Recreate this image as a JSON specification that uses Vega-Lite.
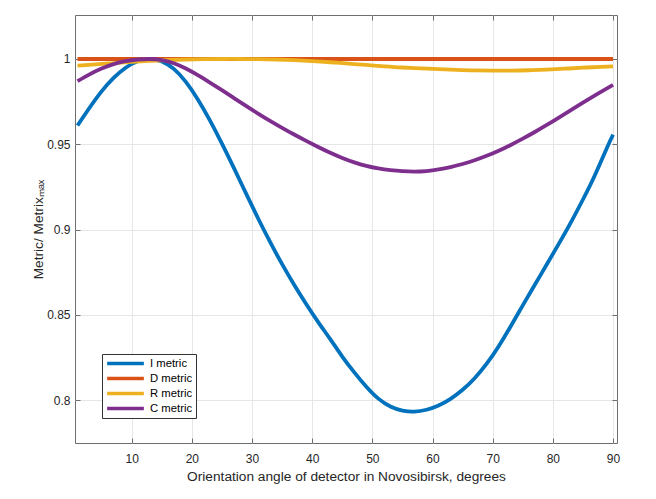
{
  "$schema": "https://vega.github.io/schema/vega-lite/v6.json",
  "width": 542,
  "height": 428,
  "autosize": {"type": "none"},
  "padding": {"left": 75, "top": 15, "right": 39, "bottom": 56},
  "background": "white",
  "datasets": {
    "curves": [
      {"a": 1, "v": 0.961, "m": "I metric"},
      {"a": 3, "v": 0.9714, "m": "I metric"},
      {"a": 5, "v": 0.981, "m": "I metric"},
      {"a": 7, "v": 0.9889, "m": "I metric"},
      {"a": 9, "v": 0.9949, "m": "I metric"},
      {"a": 11, "v": 0.9987, "m": "I metric"},
      {"a": 13, "v": 1.0, "m": "I metric"},
      {"a": 15, "v": 0.9986, "m": "I metric"},
      {"a": 17, "v": 0.9942, "m": "I metric"},
      {"a": 19, "v": 0.9866, "m": "I metric"},
      {"a": 21, "v": 0.9763, "m": "I metric"},
      {"a": 23, "v": 0.964, "m": "I metric"},
      {"a": 25, "v": 0.9504, "m": "I metric"},
      {"a": 27, "v": 0.936, "m": "I metric"},
      {"a": 29, "v": 0.9212, "m": "I metric"},
      {"a": 31, "v": 0.9066, "m": "I metric"},
      {"a": 33, "v": 0.8927, "m": "I metric"},
      {"a": 35, "v": 0.8797, "m": "I metric"},
      {"a": 37, "v": 0.8676, "m": "I metric"},
      {"a": 39, "v": 0.8563, "m": "I metric"},
      {"a": 41, "v": 0.8457, "m": "I metric"},
      {"a": 43, "v": 0.8357, "m": "I metric"},
      {"a": 45, "v": 0.8255, "m": "I metric"},
      {"a": 47, "v": 0.8162, "m": "I metric"},
      {"a": 49, "v": 0.8078, "m": "I metric"},
      {"a": 51, "v": 0.8008, "m": "I metric"},
      {"a": 53, "v": 0.7962, "m": "I metric"},
      {"a": 55, "v": 0.7938, "m": "I metric"},
      {"a": 57, "v": 0.7932, "m": "I metric"},
      {"a": 59, "v": 0.7943, "m": "I metric"},
      {"a": 61, "v": 0.7968, "m": "I metric"},
      {"a": 63, "v": 0.8007, "m": "I metric"},
      {"a": 65, "v": 0.806, "m": "I metric"},
      {"a": 67, "v": 0.8128, "m": "I metric"},
      {"a": 69, "v": 0.8213, "m": "I metric"},
      {"a": 71, "v": 0.8316, "m": "I metric"},
      {"a": 73, "v": 0.8433, "m": "I metric"},
      {"a": 75, "v": 0.8555, "m": "I metric"},
      {"a": 77, "v": 0.8676, "m": "I metric"},
      {"a": 79, "v": 0.8796, "m": "I metric"},
      {"a": 81, "v": 0.8917, "m": "I metric"},
      {"a": 83, "v": 0.9042, "m": "I metric"},
      {"a": 85, "v": 0.9176, "m": "I metric"},
      {"a": 87, "v": 0.932, "m": "I metric"},
      {"a": 89, "v": 0.948, "m": "I metric"},
      {"a": 90, "v": 0.9556, "m": "I metric"},
      {"a": 1, "v": 1.0, "m": "D metric"},
      {"a": 30, "v": 1.0, "m": "D metric"},
      {"a": 60, "v": 1.0, "m": "D metric"},
      {"a": 90, "v": 1.0, "m": "D metric"},
      {"a": 1, "v": 0.9961, "m": "R metric"},
      {"a": 4, "v": 0.9968, "m": "R metric"},
      {"a": 7, "v": 0.9976, "m": "R metric"},
      {"a": 10, "v": 0.9983, "m": "R metric"},
      {"a": 13, "v": 0.9989, "m": "R metric"},
      {"a": 16, "v": 0.9994, "m": "R metric"},
      {"a": 19, "v": 0.9997, "m": "R metric"},
      {"a": 22, "v": 0.9999, "m": "R metric"},
      {"a": 25, "v": 1.0, "m": "R metric"},
      {"a": 28, "v": 1.0, "m": "R metric"},
      {"a": 31, "v": 0.9999, "m": "R metric"},
      {"a": 34, "v": 0.9997, "m": "R metric"},
      {"a": 37, "v": 0.9993, "m": "R metric"},
      {"a": 40, "v": 0.9988, "m": "R metric"},
      {"a": 43, "v": 0.9981, "m": "R metric"},
      {"a": 46, "v": 0.9973, "m": "R metric"},
      {"a": 49, "v": 0.9965, "m": "R metric"},
      {"a": 52, "v": 0.9957, "m": "R metric"},
      {"a": 55, "v": 0.995, "m": "R metric"},
      {"a": 58, "v": 0.9945, "m": "R metric"},
      {"a": 61, "v": 0.994, "m": "R metric"},
      {"a": 64, "v": 0.9936, "m": "R metric"},
      {"a": 67, "v": 0.9933, "m": "R metric"},
      {"a": 70, "v": 0.9932, "m": "R metric"},
      {"a": 73, "v": 0.9932, "m": "R metric"},
      {"a": 76, "v": 0.9934, "m": "R metric"},
      {"a": 79, "v": 0.9938, "m": "R metric"},
      {"a": 82, "v": 0.9943, "m": "R metric"},
      {"a": 85, "v": 0.9949, "m": "R metric"},
      {"a": 88, "v": 0.9954, "m": "R metric"},
      {"a": 90, "v": 0.9957, "m": "R metric"},
      {"a": 1, "v": 0.987, "m": "C metric"},
      {"a": 3, "v": 0.991, "m": "C metric"},
      {"a": 5, "v": 0.9944, "m": "C metric"},
      {"a": 7, "v": 0.997, "m": "C metric"},
      {"a": 9, "v": 0.9987, "m": "C metric"},
      {"a": 11, "v": 0.9997, "m": "C metric"},
      {"a": 13, "v": 1.0, "m": "C metric"},
      {"a": 15, "v": 0.9994, "m": "C metric"},
      {"a": 17, "v": 0.9975, "m": "C metric"},
      {"a": 19, "v": 0.9944, "m": "C metric"},
      {"a": 21, "v": 0.9905, "m": "C metric"},
      {"a": 23, "v": 0.9862, "m": "C metric"},
      {"a": 25, "v": 0.9817, "m": "C metric"},
      {"a": 27, "v": 0.9771, "m": "C metric"},
      {"a": 29, "v": 0.9725, "m": "C metric"},
      {"a": 31, "v": 0.968, "m": "C metric"},
      {"a": 33, "v": 0.9637, "m": "C metric"},
      {"a": 35, "v": 0.9596, "m": "C metric"},
      {"a": 37, "v": 0.9557, "m": "C metric"},
      {"a": 39, "v": 0.952, "m": "C metric"},
      {"a": 41, "v": 0.9484, "m": "C metric"},
      {"a": 43, "v": 0.945, "m": "C metric"},
      {"a": 45, "v": 0.942, "m": "C metric"},
      {"a": 47, "v": 0.9394, "m": "C metric"},
      {"a": 49, "v": 0.9373, "m": "C metric"},
      {"a": 51, "v": 0.9358, "m": "C metric"},
      {"a": 53, "v": 0.9348, "m": "C metric"},
      {"a": 55, "v": 0.9342, "m": "C metric"},
      {"a": 57, "v": 0.934, "m": "C metric"},
      {"a": 59, "v": 0.9343, "m": "C metric"},
      {"a": 61, "v": 0.9352, "m": "C metric"},
      {"a": 63, "v": 0.9366, "m": "C metric"},
      {"a": 65, "v": 0.9384, "m": "C metric"},
      {"a": 67, "v": 0.9406, "m": "C metric"},
      {"a": 69, "v": 0.9432, "m": "C metric"},
      {"a": 71, "v": 0.9462, "m": "C metric"},
      {"a": 73, "v": 0.9496, "m": "C metric"},
      {"a": 75, "v": 0.9533, "m": "C metric"},
      {"a": 77, "v": 0.9572, "m": "C metric"},
      {"a": 79, "v": 0.9613, "m": "C metric"},
      {"a": 81, "v": 0.9656, "m": "C metric"},
      {"a": 83, "v": 0.97, "m": "C metric"},
      {"a": 85, "v": 0.9744, "m": "C metric"},
      {"a": 87, "v": 0.9787, "m": "C metric"},
      {"a": 89, "v": 0.9828, "m": "C metric"},
      {"a": 90, "v": 0.9848, "m": "C metric"}
    ]
  },
  "data": {"name": "curves"},
  "resolve": {"axis": {"x": "independent", "y": "independent"}},
  "layer": [
    {
      "mark": {"type": "line", "strokeWidth": 3.8, "interpolate": "natural"},
      "encoding": {
        "x": {
          "field": "a",
          "type": "quantitative",
          "scale": {"domain": [0.58, 90.66], "nice": false, "zero": false},
          "axis": {
            "orient": "bottom",
            "values": [10, 20, 30, 40, 50, 60, 70, 80, 90],
            "title": "Orientation angle of detector in Novosibirsk, degrees",
            "titleBaseline": "alphabetic",
            "titleY": 37.5,
            "labelPadding": 15
          }
        },
        "y": {
          "field": "v",
          "type": "quantitative",
          "scale": {"domain": [0.7748, 1.0258], "nice": false, "zero": false},
          "axis": {
            "orient": "left",
            "values": [0.8, 0.85, 0.9, 0.95, 1],
            "format": "~g",
            "title": "Metric/ Metrixₘₐₓ",
            "titleBaseline": "alphabetic",
            "titleX": -33,
            "titleY": 214,
            "labelPadding": 10
          }
        },
        "color": {
          "field": "m",
          "type": "nominal",
          "scale": {
            "domain": ["I metric", "D metric", "R metric", "C metric"],
            "range": ["#0072BD", "#D95319", "#EDB120", "#7E2F8E"]
          },
          "legend": {
            "orient": "none",
            "legendX": 27,
            "legendY": 339,
            "title": null,
            "symbolType": "stroke",
            "symbolSize": 1350,
            "symbolStrokeWidth": 3.5,
            "labelFontSize": 11.3,
            "labelFont": "Liberation Sans",
            "labelColor": "#000000",
            "labelOffset": 4,
            "strokeColor": "#333333",
            "fillColor": "white",
            "padding": 3,
            "clipHeight": 13,
            "rowPadding": 2
          }
        }
      }
    },
    {
      "mark": {"type": "line", "opacity": 0},
      "encoding": {
        "x": {
          "field": "a",
          "type": "quantitative",
          "axis": {
            "orient": "top",
            "values": [10, 20, 30, 40, 50, 60, 70, 80, 90],
            "labels": false,
            "title": null,
            "grid": false
          }
        },
        "y": {
          "field": "v",
          "type": "quantitative",
          "axis": {
            "orient": "right",
            "values": [0.8, 0.85, 0.9, 0.95, 1],
            "labels": false,
            "title": null,
            "grid": false
          }
        },
        "detail": {"field": "m"}
      }
    }
  ],
  "config": {
    "view": {"stroke": "#6e6e6e", "strokeWidth": 1},
    "axis": {
      "domain": false,
      "grid": true,
      "gridColor": "#e6e6e6",
      "gridWidth": 1,
      "tickSize": -5,
      "tickColor": "#6e6e6e",
      "tickWidth": 1,
      "labelFont": "Liberation Sans",
      "labelFontSize": 12,
      "labelColor": "#262626",
      "titleFont": "Liberation Sans",
      "titleFontSize": 13.7,
      "titleFontWeight": "normal",
      "titleColor": "#262626"
    }
  }
}
